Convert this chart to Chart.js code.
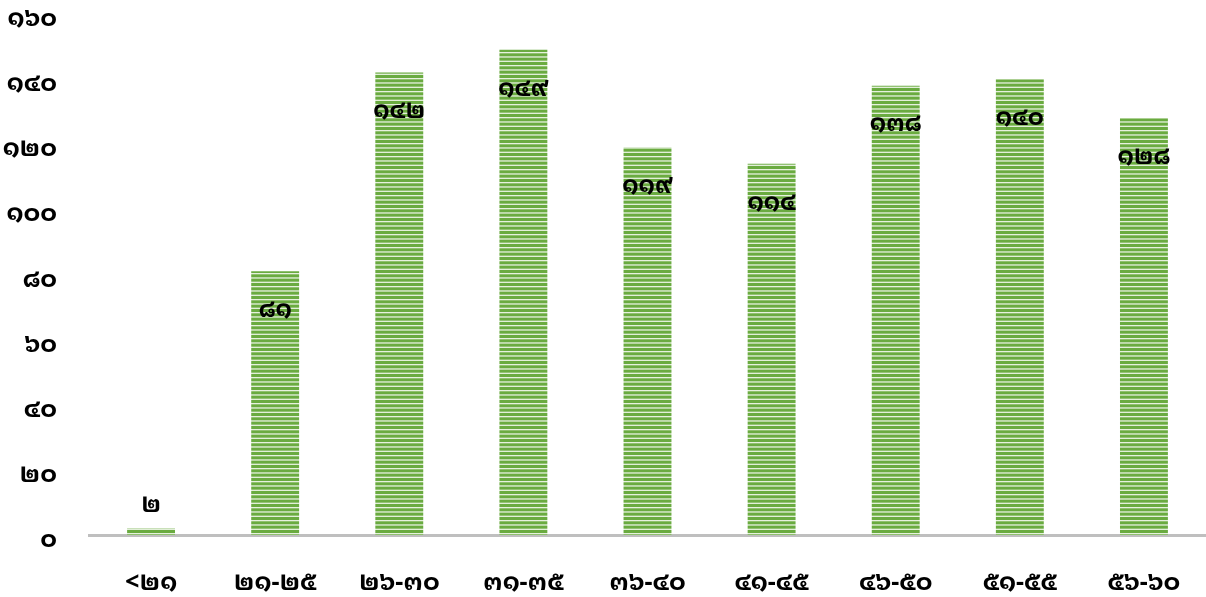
<!DOCTYPE html>
<html lang="th">
<head>
    <meta charset="utf-8">
    <title>Bar chart</title>
    <script src="https://cdn.jsdelivr.net/npm/chart.js@4.4.1/dist/chart.umd.min.js"></script>
    <style>
        html, body {
            margin: 0;
            padding: 0;
            background: #ffffff;
        }

        #wrap {
            width: 1206px;
            height: 597px;
        }
    </style>
</head>
<body>
    <div id="wrap">
        <canvas id="myChart" width="1206" height="597"></canvas>
    </div>

<script>
    // categories (age groups), values and the y ticks
    var categories = ["<๒๑", "๒๑-๒๕", "๒๖-๓๐", "๓๑-๓๕", "๓๖-๔๐", "๔๑-๔๕", "๔๖-๕๐", "๕๑-๕๕", "๕๖-๖๐"];
    var values = [2, 81, 142, 149, 119, 114, 138, 140, 128];
    var yTicks = [0, 20, 40, 60, 80, 100, 120, 140, 160];

    var thaiDigits = ["๐", "๑", "๒", "๓", "๔", "๕", "๖", "๗", "๘", "๙"];
    let toThai = (n) => String(n).replace(/[0-9]/g, d => thaiDigits[+d]);

    var fontFamily = "'Noto Sans Thai Looped', 'Noto Serif Thai', 'Noto Sans Thai', 'Noto Sans', sans-serif";
    var fontSize = 25;

    // striped green fill like the original (about one light line every 4.3px)
    let makeStripes = () => {
        let c = document.createElement("canvas");
        c.width = 4;
        c.height = 13;
        let g = c.getContext("2d");
        g.fillStyle = "#6aab40";
        g.fillRect(0, 0, 4, 13);
        g.fillStyle = "#e6f1de";
        g.fillRect(0, 0, 4, 1.3);
        g.fillRect(0, 4.33, 4, 1.3);
        g.fillRect(0, 8.67, 4, 1.3);
        return g.createPattern(c, "repeat");
    };

    // value labels: inside near the top, or above when the bar is too short
    var valueLabels = {
        id: "valueLabels",
        afterDatasetsDraw(chart) {
            let ctx = chart.ctx;
            let meta = chart.getDatasetMeta(0);
            ctx.save();
            ctx.font = "bold 24px " + fontFamily;
            ctx.fillStyle = "#000000";
            ctx.textAlign = "center";
            ctx.textBaseline = "middle";
            meta.data.forEach((bar, i) => {
                let h = bar.base - bar.y;
                let y = h > 50 ? bar.y + 39 : bar.y - 23;
                ctx.fillText(toThai(values[i]), bar.x, y);
            });
            ctx.restore();
        }
    };

    let ctx = document.getElementById("myChart").getContext("2d");
    var myChart = new Chart(ctx, {
        type: "bar",
        data: {
            labels: categories,
            datasets: [{
                data: values,
                backgroundColor: makeStripes(),
                borderWidth: 0,
                barPercentage: 0.386,
                categoryPercentage: 1.0
            }]
        },
        options: {
            responsive: false,
            animation: false,
            layout: {
                padding: { top: 14, right: -3, left: 0, bottom: 0 }
            },
            plugins: {
                legend: { display: false },
                tooltip: { enabled: false }
            },
            scales: {
                x: {
                    grid: { display: false, drawTicks: false },
                    border: { display: true, color: "#bfbfbf", width: 3 },
                    ticks: {
                        color: "#000000",
                        padding: 33,
                        font: { family: fontFamily, size: fontSize, weight: "bold" },
                        maxRotation: 0,
                        autoSkip: false
                    },
                    afterFit: (scale) => {
                        scale.height = 62;
                        scale.paddingLeft = 0;
                        scale.paddingRight = 0;
                    }
                },
                y: {
                    min: 0,
                    max: 160,
                    afterBuildTicks: (scale) => {
                        scale.ticks = yTicks.map(v => ({ value: v }));
                    },
                    grid: { display: false, drawTicks: false },
                    border: { display: false },
                    ticks: {
                        color: "#000000",
                        padding: 32,
                        labelOffset: 5,
                        font: { family: fontFamily, size: fontSize, weight: "bold" },
                        callback: (v) => toThai(v)
                    },
                    afterFit: (scale) => {
                        scale.width = 89;
                        scale.paddingTop = 0;
                        scale.paddingBottom = 0;
                    }
                }
            }
        },
        plugins: [valueLabels]
    });
</script>
</body>
</html>
